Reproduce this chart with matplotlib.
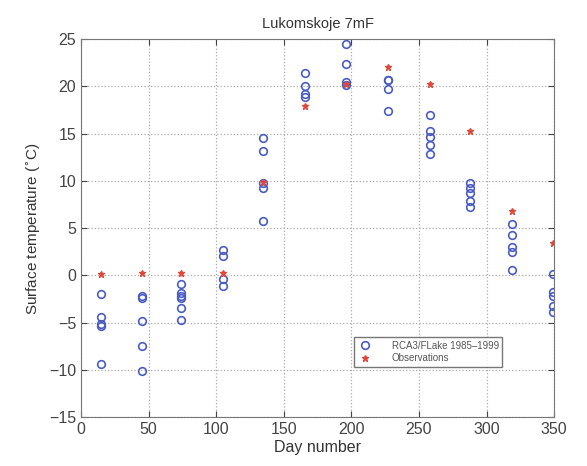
# Lukomskoje 7mF: modelled vs observed surface temperature
import numpy as np
import matplotlib.pyplot as plt

plt.rcParams['font.family'] = ['Liberation Sans', 'DejaVu Sans']

# model (RCA3/FLake) values, several years per day
model_days = [15] * 5 + [45] * 5 + [74] * 6 + [105] * 4 + [135] * 5 + [166] * 4 \
    + [196] * 4 + [227] * 4 + [258] * 5 + [288] * 5 + [319] * 5 + [349] * 5
model_temp = [-2.0, -4.4, -5.1, -5.4, -9.4,
              -2.2, -2.4, -4.8, -7.5, -10.1,
              -0.9, -1.9, -2.2, -2.4, -3.5, -4.7,
              2.7, 2.1, -0.4, -1.1,
              14.5, 13.2, 9.8, 9.2, 5.7,
              21.4, 20.0, 19.2, 18.9,
              24.5, 22.4, 20.5, 20.1,
              20.7, 20.7, 19.7, 17.4,
              17.0, 15.3, 14.6, 13.8, 12.8,
              9.8, 9.2, 8.7, 7.9, 7.2,
              5.4, 4.3, 3.0, 2.5, 0.6,
              0.1, -1.8, -2.2, -3.2, -3.9]

# observations
obs_days = [15, 45, 74, 105, 135, 166, 196, 227, 258, 288, 319, 349]
obs_temp = [0.1, 0.25, 0.2, 0.3, 9.9, 17.9, 20.3, 22.0, 20.2, 15.3, 6.8, 3.4]

fig = plt.figure(figsize=(5.87, 4.66), dpi=100)
ax = fig.add_axes([0.138, 0.105, 0.806, 0.811])

ax.plot(model_days, model_temp, 'o', mfc='none', mec='#4a5cc4', mew=1.2, ms=5.5,
        label='RCA3/FLake 1985\u20131999')
ax.plot(obs_days, obs_temp, '*', color='#e0483a', ms=4.5,
        label='Observations')

ax.set_xlim(0, 350)
ax.set_ylim(-15, 25)
ax.set_xticks(np.arange(0, 351, 50))
ax.set_yticks(np.arange(-15, 26, 5))
ax.grid(True, linestyle=':', color='#aaaaaa', linewidth=0.9)
ax.tick_params(direction='in', top=True, right=True, labelsize=11.5, colors='#444444',
               length=4)
for s in ax.spines.values():
    s.set_color('#777777')

ax.set_title('Lukomskoje 7mF', fontsize=10.5, color='#333333', pad=8)
ax.set_xlabel('Day number', fontsize=11.5, color='#333333', labelpad=2)
ax.set_ylabel('Surface temperature ($^{\\circ}$C)', fontsize=11, color='#333333')

leg = ax.legend(loc='lower left', bbox_to_anchor=(0.567, 0.12), fontsize=7,
                frameon=True, fancybox=False, edgecolor='#555555',
                handletextpad=2.0, borderpad=0.35, labelspacing=0.3,
                handlelength=1.5)
leg.get_frame().set_linewidth(1.0)
for t in leg.get_texts():
    t.set_color('#555555')

fig.savefig('out.png', dpi=100)
